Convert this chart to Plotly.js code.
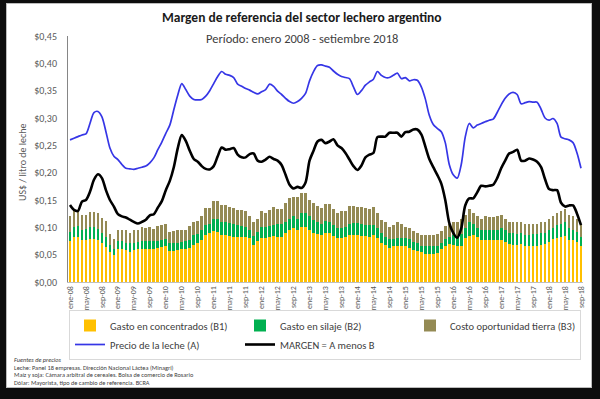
<!DOCTYPE html>
<html><head><meta charset="utf-8">
<script src="https://cdn.plot.ly/plotly-3.0.1.min.js"></script>
<style>
html,body{margin:0;padding:0;background:#0d0d0d;width:600px;height:399px;overflow:hidden}
#frame{position:absolute;left:6px;top:3px;width:584px;height:383px;border:1px solid #bcbcbc;background:#fff}
#chart{width:584px;height:383px}
</style></head><body><div id="frame"><div id="chart"></div></div>
<script>
const months = [
"ene-08","feb-08","mar-08","abr-08","may-08","jun-08","jul-08","ago-08","sep-08","oct-08","nov-08","dic-08",
"ene-09","feb-09","mar-09","abr-09","may-09","jun-09","jul-09","ago-09","sep-09","oct-09","nov-09","dic-09",
"ene-10","feb-10","mar-10","abr-10","may-10","jun-10","jul-10","ago-10","sep-10","oct-10","nov-10","dic-10",
"ene-11","feb-11","mar-11","abr-11","may-11","jun-11","jul-11","ago-11","sep-11","oct-11","nov-11","dic-11",
"ene-12","feb-12","mar-12","abr-12","may-12","jun-12","jul-12","ago-12","sep-12","oct-12","nov-12","dic-12",
"ene-13","feb-13","mar-13","abr-13","may-13","jun-13","jul-13","ago-13","sep-13","oct-13","nov-13","dic-13",
"ene-14","feb-14","mar-14","abr-14","may-14","jun-14","jul-14","ago-14","sep-14","oct-14","nov-14","dic-14",
"ene-15","feb-15","mar-15","abr-15","may-15","jun-15","jul-15","ago-15","sep-15","oct-15","nov-15","dic-15",
"ene-16","feb-16","mar-16","abr-16","may-16","jun-16","jul-16","ago-16","sep-16","oct-16","nov-16","dic-16",
"ene-17","feb-17","mar-17","abr-17","may-17","jun-17","jul-17","ago-17","sep-17","oct-17","nov-17","dic-17",
"ene-18","feb-18","mar-18","abr-18","may-18","jun-18","jul-18","ago-18","sep-18"];

const tickLabels = ["ene-08","may-08","sep-08","ene-09","may-09","sep-09","ene-10","may-10","sep-10",
"ene-11","may-11","sep-11","ene-12","may-12","sep-12","ene-13","may-13","sep-13","ene-14","may-14","sep-14",
"ene-15","may-15","sep-15","ene-16","may-16","sep-16","ene-17","may-17","sep-17","ene-18","may-18","sep-18"];

const concentrados = [
0.075,0.082,0.083,0.076,0.076,0.079,0.079,0.076,0.071,0.064,0.054,0.049,
0.060,0.060,0.058,0.055,0.058,0.060,0.060,0.061,0.060,0.060,0.063,0.064,
0.066,0.057,0.057,0.058,0.060,0.060,0.063,0.068,0.072,0.076,0.086,0.089,
0.093,0.092,0.086,0.086,0.084,0.083,0.082,0.082,0.082,0.080,0.068,0.075,
0.080,0.080,0.082,0.084,0.082,0.083,0.090,0.095,0.099,0.096,0.100,0.101,
0.096,0.090,0.088,0.086,0.089,0.090,0.084,0.080,0.080,0.083,0.086,0.086,
0.086,0.085,0.084,0.083,0.086,0.080,0.072,0.068,0.063,0.065,0.066,0.066,
0.065,0.063,0.059,0.057,0.054,0.052,0.052,0.052,0.053,0.060,0.065,0.069,
0.068,0.065,0.066,0.080,0.084,0.086,0.082,0.077,0.077,0.076,0.076,0.077,
0.077,0.074,0.069,0.068,0.068,0.069,0.066,0.065,0.066,0.066,0.068,0.069,
0.074,0.078,0.080,0.082,0.084,0.077,0.076,0.074,0.065];

const silaje = [
0.017,0.018,0.020,0.019,0.021,0.021,0.021,0.021,0.019,0.019,0.013,0.011,
0.015,0.015,0.014,0.016,0.014,0.014,0.015,0.014,0.015,0.015,0.012,0.013,
0.012,0.014,0.015,0.014,0.014,0.015,0.014,0.018,0.015,0.019,0.018,0.018,
0.023,0.024,0.024,0.024,0.024,0.024,0.022,0.020,0.019,0.016,0.016,0.017,
0.020,0.021,0.020,0.020,0.024,0.023,0.020,0.021,0.021,0.020,0.026,0.026,
0.024,0.023,0.022,0.020,0.023,0.020,0.020,0.018,0.018,0.017,0.021,0.022,
0.022,0.022,0.020,0.021,0.018,0.018,0.017,0.015,0.015,0.013,0.014,0.014,
0.015,0.015,0.015,0.014,0.012,0.013,0.013,0.013,0.013,0.011,0.013,0.014,
0.018,0.018,0.022,0.018,0.025,0.020,0.017,0.018,0.019,0.020,0.020,0.019,
0.021,0.021,0.021,0.021,0.020,0.020,0.020,0.021,0.021,0.021,0.021,0.021,
0.021,0.021,0.024,0.025,0.025,0.021,0.019,0.018,0.018];

const tierra = [
0.028,0.029,0.027,0.027,0.026,0.028,0.028,0.029,0.027,0.028,0.021,0.018,
0.021,0.021,0.023,0.018,0.023,0.022,0.026,0.023,0.025,0.022,0.027,0.028,
0.028,0.021,0.022,0.023,0.021,0.021,0.025,0.023,0.025,0.025,0.031,0.028,
0.032,0.032,0.030,0.030,0.029,0.028,0.028,0.030,0.029,0.024,0.026,0.024,
0.029,0.026,0.030,0.033,0.027,0.027,0.034,0.037,0.036,0.039,0.036,0.036,
0.030,0.031,0.029,0.030,0.031,0.032,0.029,0.029,0.031,0.029,0.032,0.031,
0.030,0.030,0.031,0.030,0.033,0.028,0.025,0.026,0.023,0.027,0.029,0.026,
0.020,0.020,0.019,0.019,0.020,0.021,0.021,0.021,0.021,0.022,0.024,0.024,
0.024,0.026,0.028,0.025,0.024,0.021,0.022,0.020,0.024,0.022,0.022,0.024,
0.025,0.021,0.020,0.020,0.022,0.021,0.020,0.020,0.020,0.020,0.020,0.020,
0.020,0.022,0.022,0.022,0.024,0.025,0.025,0.024,0.021];

const precio = [
0.260,0.263,0.266,0.269,0.271,0.290,0.310,0.312,0.302,0.275,0.245,0.230,
0.224,0.215,0.208,0.207,0.206,0.208,0.210,0.212,0.218,0.227,0.242,0.256,
0.272,0.287,0.315,0.342,0.363,0.352,0.340,0.334,0.333,0.334,0.340,0.350,
0.363,0.376,0.385,0.380,0.378,0.374,0.362,0.358,0.354,0.351,0.347,0.344,
0.348,0.352,0.362,0.358,0.349,0.343,0.336,0.330,0.327,0.330,0.336,0.345,
0.368,0.385,0.396,0.397,0.395,0.393,0.386,0.380,0.376,0.374,0.372,0.357,
0.343,0.350,0.360,0.366,0.371,0.385,0.378,0.374,0.374,0.378,0.382,0.372,
0.374,0.368,0.370,0.369,0.357,0.335,0.305,0.288,0.281,0.275,0.255,0.215,
0.196,0.190,0.215,0.265,0.290,0.282,0.287,0.290,0.293,0.296,0.298,0.310,
0.324,0.336,0.344,0.347,0.343,0.326,0.328,0.330,0.329,0.329,0.316,0.300,
0.296,0.299,0.290,0.265,0.262,0.260,0.255,0.236,0.208];

const margen = [
0.141,0.132,0.130,0.147,0.150,0.165,0.187,0.197,0.190,0.168,0.150,0.138,
0.124,0.120,0.118,0.114,0.110,0.107,0.110,0.114,0.122,0.124,0.136,0.148,
0.168,0.185,0.210,0.245,0.269,0.258,0.240,0.225,0.220,0.212,0.207,0.206,
0.212,0.230,0.246,0.242,0.243,0.245,0.233,0.228,0.228,0.234,0.235,0.222,
0.220,0.224,0.229,0.225,0.222,0.214,0.196,0.178,0.171,0.174,0.172,0.182,
0.222,0.240,0.257,0.260,0.254,0.257,0.261,0.250,0.245,0.236,0.224,0.212,
0.205,0.213,0.228,0.233,0.236,0.265,0.266,0.266,0.273,0.273,0.273,0.266,
0.274,0.275,0.279,0.279,0.270,0.248,0.225,0.210,0.196,0.180,0.150,0.108,
0.090,0.081,0.098,0.140,0.153,0.153,0.164,0.176,0.175,0.176,0.178,0.190,
0.208,0.222,0.235,0.238,0.242,0.222,0.222,0.226,0.224,0.220,0.210,0.188,
0.170,0.168,0.168,0.145,0.138,0.140,0.140,0.125,0.104];

// page-pixel to paper helpers (frame inner origin at page 7,4; plot area 68..583 x 36..282)
const X = p => (p - 68) / 515;
const Y = p => (282 - p) / 246;
const FONT = 'Carlito, Lato, "Open Sans", sans-serif';

const traces = [
  {type:'bar', name:'Gasto en concentrados (B1)', x:months, y:concentrados, marker:{color:'#FFC000', line:{width:0}}},
  {type:'bar', name:'Gasto en silaje (B2)', x:months, y:silaje, marker:{color:'#00B050', line:{width:0}}},
  {type:'bar', name:'Costo oportunidad tierra (B3)', x:months, y:tierra, marker:{color:'#948A54', line:{width:0}}},
  {type:'scatter', mode:'lines', name:'Precio de la leche (A)', x:months, y:precio, line:{color:'#3636E6', width:1.7, shape:'spline', smoothing:0.8}},
  {type:'scatter', mode:'lines', name:'MARGEN = A menos B', x:months, y:margen, line:{color:'#000000', width:2.6, shape:'spline', smoothing:0.8}}
];

const foot = ['<i>Fuentes de precios</i>',
  'Leche: Panel 18 empresas. Dirección Nacional Láctea (Minagri)',
  'Maíz y soja: Cámara arbitral de cereales. Bolsa de comercio de Rosario',
  'Dólar: Mayorista, tipo de cambio de referencia. BCRA'];
const footY = [360, 367.5, 375, 382.5];

const annotations = [
  {text:'<b>Margen de referencia del sector lechero argentino</b>', xref:'paper', yref:'paper', x:X(302), y:Y(18), xanchor:'center', yanchor:'middle', showarrow:false, font:{family:FONT, size:13.5, color:'#1a1a1a'}},
  {text:'Período: enero 2008 - setiembre 2018', xref:'paper', yref:'paper', x:X(302), y:Y(38), xanchor:'center', yanchor:'middle', showarrow:false, font:{family:FONT, size:12.5, color:'#404040'}},
  {text:'US$ / litro de leche', xref:'paper', yref:'paper', x:X(22), y:Y(162), xanchor:'center', yanchor:'middle', textangle:-90, showarrow:false, font:{family:FONT, size:10, color:'#595959'}}
];
foot.forEach((t,k)=>annotations.push({text:t, xref:'paper', yref:'paper', x:X(12), y:Y(footY[k]), xanchor:'left', yanchor:'middle', showarrow:false, font:{family:FONT, size:6.3, color:'#404040'}}));

const layout = {
  width:584, height:383,
  margin:{l:61, r:8, t:32, b:105},
  paper_bgcolor:'#ffffff', plot_bgcolor:'#ffffff',
  separators:',.',
  barmode:'stack', bargap:0.32,
  font:{family:FONT, color:'#595959'},
  showlegend:true,
  legend:{orientation:'h', x:X(69), xanchor:'left', y:Y(310), yanchor:'top', traceorder:'normal',
    entrywidth:125, entrywidthmode:'pixels', bgcolor:'#ffffff', bordercolor:'#d9d9d9', borderwidth:1,
    font:{family:FONT, size:10.5, color:'#404040'}, itemclick:false},
  xaxis:{type:'category', range:[-0.5, 128.5], tickmode:'array', tickvals:tickLabels, ticktext:tickLabels,
    tickangle:-90, tickfont:{family:FONT, size:8, color:'#595959'}, showgrid:false, zeroline:false,
    showline:true, linecolor:'#bfbfbf', linewidth:1, ticks:'', fixedrange:true},
  yaxis:{range:[0, 0.45], dtick:0.05, tick0:0, tickformat:'.2f', tickprefix:'$', showgrid:false, zeroline:false,
    showline:true, linecolor:'#868686', linewidth:1, ticks:'', ticklabelstandoff:8,
    tickfont:{family:FONT, size:10, color:'#595959'}, fixedrange:true},
  annotations:annotations
};

Plotly.newPlot('chart', traces, layout, {displayModeBar:false, staticPlot:true});
</script></body></html>
